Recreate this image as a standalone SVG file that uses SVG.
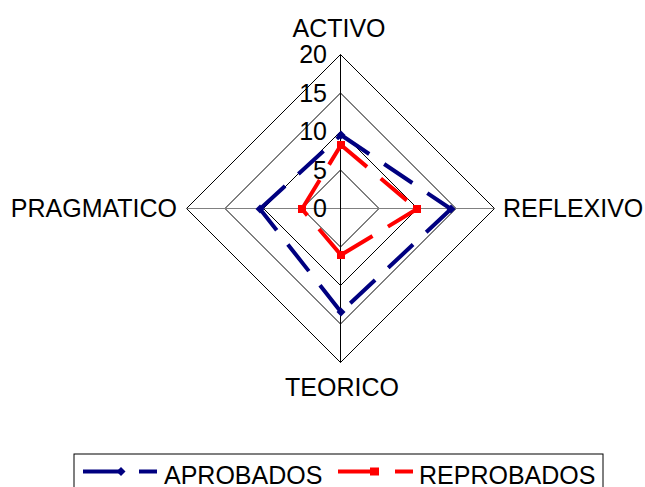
<svg xmlns="http://www.w3.org/2000/svg" width="645" height="487" viewBox="0 0 645 487">
<style>
text{font-family:"Liberation Sans",Arial,sans-serif;font-size:25px;fill:#000}
.grid{fill:none;stroke:#000;stroke-width:1}
.tick{text-anchor:end}
.blue{stroke:#000080;stroke-width:4;stroke-dasharray:34 18;fill:none}
.red{stroke:#ff0000;stroke-width:4;stroke-dasharray:34 18;fill:none}
</style>
<rect width="645" height="487" fill="#fff"/>
<g id="grid">
<polygon class="grid" points="340.5,170 379,208.5 340.5,247 302,208.5"/>
<polygon class="grid" points="340.5,131.5 417.5,208.5 340.5,285.5 263.5,208.5"/>
<polygon class="grid" points="340.5,93 456,208.5 340.5,324 225,208.5"/>
<polygon class="grid" points="340.5,54.5 494.5,208.5 340.5,362.5 186.5,208.5"/>
<line x1="186.5" y1="208.5" x2="494.5" y2="208.5" stroke="#808080" stroke-width="1"/>
<line x1="340.5" y1="54.5" x2="340.5" y2="362.5" stroke="#000" stroke-width="1"/>
</g>
<g id="ticks">
<text class="tick" x="327" y="63">20</text>
<text class="tick" x="327" y="102">15</text>
<text class="tick" x="327" y="140">10</text>
<text class="tick" x="327" y="179">5</text>
<text class="tick" x="327" y="217">0</text>
</g>
<g id="node-activo"><text x="339" y="37" text-anchor="middle">ACTIVO</text></g>
<g id="node-reflexivo"><text x="503" y="217">REFLEXIVO</text></g>
<g id="node-teorico"><text x="342" y="396" text-anchor="middle">TEORICO</text></g>
<g id="node-pragmatico"><text x="177" y="217" text-anchor="end">PRAGMATICO</text></g>
<g id="connectors">
<g id="series-aprobados">
<line class="blue" x1="341" y1="135" x2="451" y2="209"/>
<line class="blue" x1="451" y1="209" x2="341" y2="312"/>
<line class="blue" x1="341" y1="312" x2="260" y2="209"/>
<line class="blue" x1="260" y1="209" x2="341" y2="135"/>
<g fill="#000080">
<polygon points="341,130.5 345.5,135 341,139.5 336.5,135"/>
<polygon points="451,204.5 455.5,209 451,213.5 446.5,209"/>
<polygon points="341,307.5 345.5,312 341,316.5 336.5,312"/>
<polygon points="260,204.5 264.5,209 260,213.5 255.5,209"/>
</g>
</g>
<g id="series-reprobados">
<line class="red" x1="341" y1="145" x2="417" y2="209"/>
<line class="red" x1="417" y1="209" x2="341" y2="255"/>
<line class="red" x1="341" y1="255" x2="302" y2="209"/>
<line class="red" x1="302" y1="209" x2="341" y2="145"/>
<g fill="#ff0000">
<rect x="337" y="141" width="8" height="8"/>
<rect x="413" y="205" width="8" height="8"/>
<rect x="337" y="251" width="8" height="8"/>
<rect x="298" y="205" width="8" height="8"/>
</g>
</g>
</g>
<g id="legend">
<rect x="74" y="454" width="529" height="40" fill="#fff" stroke="#000" stroke-width="1"/>
<line x1="83" y1="471.5" x2="119" y2="471.5" stroke="#000080" stroke-width="4"/>
<polygon points="121,467 125.5,471.5 121,476 116.5,471.5" fill="#000080"/>
<line x1="139" y1="471.5" x2="157" y2="471.5" stroke="#000080" stroke-width="4"/>
<text x="164" y="484">APROBADOS</text>
<line x1="338" y1="471.5" x2="372" y2="471.5" stroke="#ff0000" stroke-width="4"/>
<rect x="370" y="467.5" width="9" height="8" fill="#ff0000"/>
<line x1="395" y1="471.5" x2="413" y2="471.5" stroke="#ff0000" stroke-width="4"/>
<text x="419" y="484">REPROBADOS</text>
</g>
</svg>
